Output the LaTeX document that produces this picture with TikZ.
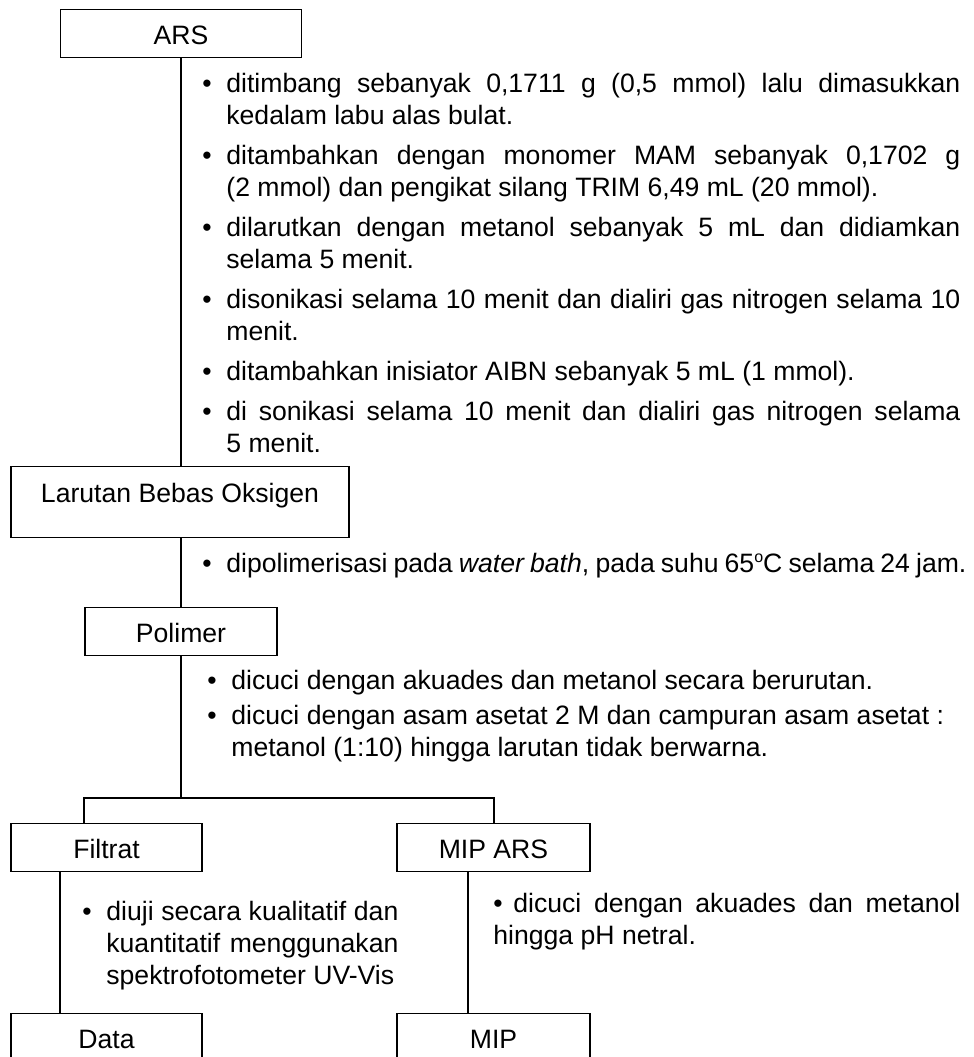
\documentclass[tikz,border=0pt]{standalone}
\usepackage{fontspec}
\setmainfont{Liberation Sans}
\usetikzlibrary{positioning}

% no hyphens, let forced lines stretch freely
\hyphenpenalty=10000
\tolerance=10000
\hbadness=10000

% bullet in the margin, and the gap between two points
\newcommand{\butir}{\noindent\llap{\textbullet\hspace{7.4pt}}}
\newcommand{\jeda}[1][4pt]{\par\vspace{#1}}
\newcommand{\derajat}{\raisebox{0.75ex}{\fontsize{8}{8}\selectfont o}}

\begin{document}
\begin{tikzpicture}[x=0.5pt, y=-0.5pt,
    kotak/.style={draw, line width=0.6pt, anchor=north, inner xsep=0pt, inner ysep=0pt,
        text height=17.5pt, text depth=6.5pt, font=\fontsize{13.3}{16}\selectfont},
    catatan/.style={anchor=north west, inner sep=0pt, align=justify,
        font=\fontsize{13.3}{16}\selectfont},
    garis/.style={line width=1pt}]

    \useasboundingbox (0,0) rectangle (974,1057);

    % the boxes of each stage
    \node[kotak, minimum width=120.5pt] (ars) at (181,9) {ARS};
    \node[kotak, minimum width=169pt, text height=18pt, text depth=17.5pt] (larutan) at (180,466) {Larutan Bebas Oksigen};
    \node[kotak, minimum width=96pt] (polimer) at (181,607) {Polimer};
    \node[kotak, minimum width=95.5pt] (filtrat) at (106.5,823) {Filtrat};
    \node[kotak, minimum width=96.5pt] (mipars) at (493.5,823) {MIP ARS};
    \node[kotak, minimum width=95.5pt] (data) at (106.5,1013) {Data};
    \node[kotak, minimum width=96.5pt] (mip) at (493.5,1013) {MIP};

    % steps written beside the lines
    \node[catatan, text width=367pt] (langkah1) at (226,73) {%
        \butir ditimbang sebanyak 0,1711 g (0,5 mmol) lalu dimasukkan\linebreak kedalam labu alas bulat.\jeda
        \butir ditambahkan dengan monomer MAM sebanyak 0,1702 g\linebreak (2 mmol) dan pengikat silang TRIM 6,49 mL (20 mmol).\jeda
        \butir dilarutkan dengan metanol sebanyak 5 mL dan didiamkan\linebreak selama 5 menit.\jeda
        \butir disonikasi selama 10 menit dan dialiri gas nitrogen selama 10\linebreak menit.\jeda
        \butir ditambahkan inisiator AIBN sebanyak 5 mL (1 mmol).\jeda
        \butir di sonikasi selama 10 menit dan dialiri gas nitrogen selama\linebreak 5 menit.};
    \node[catatan, text width=370pt] (langkah2) at (226,553) {%
        \butir dipolimerisasi pada \textit{water bath}, pada suhu 65\derajat C selama 24 jam.};
    \node[catatan, text width=360pt] (langkah3) at (231,670) {%
        \butir dicuci dengan akuades dan metanol secara berurutan.\jeda[1.5pt]
        \butir dicuci dengan asam asetat 2 M dan campuran asam asetat :\newline metanol (1:10) hingga larutan tidak berwarna.};
    \node[catatan, text width=146pt] (langkah4) at (106,901) {%
        \butir diuji secara kualitatif dan\linebreak kuantitatif menggunakan\linebreak spektrofotometer UV-Vis};
    \node[catatan, text width=233.5pt] (langkah5) at (493,893) {%
        \noindent\textbullet\hspace{5.35pt}dicuci dengan akuades dan metanol\linebreak hingga pH netral.};

    % connecting lines
    \coordinate (cabang) at (181,798);
    \draw[garis] (ars.south) -- (ars.south |- larutan.north);
    \draw[garis] (ars.south |- larutan.south) -- (polimer.north);
    \draw[garis] (polimer.south) -- (cabang);
    \draw[garis] ([xshift=37pt]filtrat.north west) |- (cabang) -| (mipars.north);
    \draw[garis] ([xshift=25pt]filtrat.south west) -- ([xshift=25pt]data.north west);
    \draw[garis] ([xshift=36pt]mipars.south west) -- ([xshift=36pt]mip.north west);

\end{tikzpicture}
\end{document}
